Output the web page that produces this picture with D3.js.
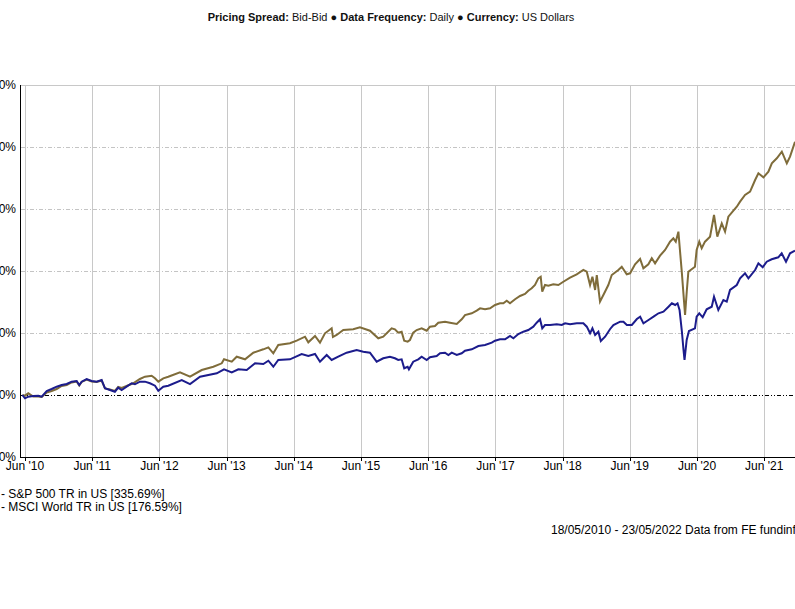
<!DOCTYPE html>
<html>
<head>
<meta charset="utf-8">
<script src="https://cdn.jsdelivr.net/npm/d3@7"></script>
<style>
  html, body { margin: 0; padding: 0; background: #fff; overflow: hidden; }
  svg { display: block; font-family: "Liberation Sans", Arial, sans-serif; }
</style>
</head>
<body>
<svg id="chart" width="795" height="609"></svg>
<script>
// ---------- DATA (decimal year, cumulative total return %) ----------
const seriesNames = ["S&P 500 TR in US [335.69%]", "MSCI World TR in US [176.59%]"];
const seriesColors = ["#7f6c3a", "#1c1c8c"];

const sp500 = [
  [2010.375,0],[2010.414,-1.1],[2010.463,2.7],[2010.538,-2.4],[2010.612,-2.4],[2010.663,-3.2],
  [2010.737,4.0],[2010.811,6.5],[2010.886,9.7],[2010.960,14.5],[2011.035,16.1],[2011.109,20.2],
  [2011.183,21.8],[2011.222,15.3],[2011.258,21.0],[2011.332,25.0],[2011.407,21.8],[2011.481,21.0],
  [2011.555,23.4],[2011.605,10.5],[2011.679,8.9],[2011.753,6.5],[2011.802,12.9],[2011.853,11.3],
  [2011.927,14.5],[2012.026,18.9],[2012.125,25.8],[2012.200,29.5],[2012.299,31.1],[2012.349,26.9],
  [2012.398,21.5],[2012.472,26.9],[2012.546,29.5],
  [2012.720,36.6],[2012.869,29.5],[2013.043,40.3],[2013.216,45.6],[2013.341,51.1],[2013.375,57.6],
  [2013.490,53.7],[2013.564,61.8],[2013.688,57.6],[2013.811,68.2],[2013.960,73.7],[2014.035,76.9],
  [2014.109,67.3],[2014.183,80.6],[2014.357,83.4],[2014.457,87.6],[2014.581,94.0],[2014.630,85.0],
  [2014.730,95.2],[2014.804,84.4],[2014.878,99.5],[2014.978,107.6],[2014.997,93.5],[2015.052,96.8],
  [2015.151,104.8],[2015.299,106.0],[2015.399,109.2],[2015.548,103.7],[2015.672,91.5],[2015.746,94.0],
  [2015.871,107.6],
  [2015.920,106.0],[2015.969,100.5],[2016.020,102.1],[2016.058,87.6],[2016.109,86.0],[2016.143,88.7],
  [2016.192,100.5],[2016.243,104.8],[2016.317,107.6],[2016.392,103.7],[2016.441,110.2],[2016.515,111.3],
  [2016.564,116.6],[2016.664,118.2],[2016.738,116.6],[2016.838,114.5],[2016.912,122.1],[2016.961,129.0],
  [2017.061,131.8],[2017.135,136.0],[2017.185,139.8],[2017.259,138.2],[2017.334,139.8],[2017.408,145.2],
  [2017.482,147.9],[2017.532,147.9],[2017.582,152.1],[2017.631,147.9],[2017.706,154.4],[2017.780,159.7],
  [2017.854,162.9],[2017.903,168.2],[2017.954,172.1],[2018.003,177.4],[2018.052,188.2],[2018.088,190.8],
  [2018.111,166.6],[2018.152,177.4],
  [2018.202,176.3],[2018.276,178.6],[2018.351,177.4],[2018.425,182.7],[2018.525,189.2],[2018.624,194.7],
  [2018.723,201.6],[2018.774,198.9],[2018.823,177.4],[2018.858,190.8],[2018.898,169.4],[2018.923,193.5],
  [2018.971,150.5],[2019.021,161.3],[2019.095,177.4],[2019.146,193.5],[2019.244,201.6],[2019.295,206.9],
  [2019.369,194.7],[2019.419,196.3],[2019.493,210.8],[2019.568,219.4],[2019.617,204.4],[2019.691,210.8],
  [2019.742,220.5],[2019.791,212.4],[2019.865,224.7],[2019.940,233.9],[2020.014,247.3],[2020.063,252.7],
  [2020.099,247.3],[2020.138,263.4],[2020.163,231.1],[2020.188,198.9],[2020.222,150.5],[2020.237,129.0],
  [2020.262,166.6],[2020.286,198.9],
  [2020.384,206.9],[2020.409,233.9],[2020.448,247.3],[2020.484,236.6],[2020.533,247.3],[2020.608,255.3],
  [2020.667,290.3],[2020.716,255.3],[2020.782,276.9],[2020.831,263.4],[2020.880,287.6],[2021.005,303.7],
  [2021.054,311.8],[2021.128,322.6],[2021.203,327.9],[2021.278,346.8],[2021.327,357.6],[2021.402,351.1],
  [2021.476,360.2],[2021.527,373.7],[2021.601,381.8],[2021.676,392.4],[2021.750,373.7],[2021.798,384.4],
  [2021.872,408.5]
];

const msciWorld = [
  [2010.375,0],[2010.414,-5.3],[2010.463,-2.7],[2010.538,-1.6],[2010.612,-1.1],[2010.663,-2.7],
  [2010.737,6.5],[2010.811,9.7],[2010.886,13.4],[2010.960,16.1],[2011.035,17.7],[2011.109,21.5],
  [2011.183,22.6],[2011.222,16.1],[2011.258,21.5],[2011.332,25.8],[2011.407,22.6],[2011.481,21.5],
  [2011.555,24.2],[2011.605,10.8],[2011.679,8.1],[2011.753,5.3],[2011.802,11.8],[2011.853,8.1],
  [2011.927,13.4],[2012.002,18.9],[2012.051,17.3],[2012.125,21.5],[2012.200,21.5],[2012.274,18.9],
  [2012.349,15.0],[2012.398,6.9],[2012.472,13.4],[2012.546,15.0],
  [2012.746,24.2],[2012.869,17.7],[2013.018,29.5],[2013.267,35.0],[2013.375,41.5],[2013.490,36.6],
  [2013.588,41.5],[2013.713,40.3],[2013.837,51.1],[2013.960,50.0],[2014.035,55.3],[2014.109,45.6],
  [2014.183,56.5],[2014.357,57.6],[2014.531,66.1],[2014.630,62.9],[2014.730,66.1],[2014.804,53.7],
  [2014.904,64.5],[2014.978,56.5],[2015.076,61.8],[2015.201,68.2],[2015.350,72.6],[2015.448,69.8],
  [2015.548,68.2],[2015.648,53.7],[2015.746,59.2],[2015.846,61.8],
  [2015.920,59.2],[2015.969,56.5],[2016.020,57.6],[2016.058,43.1],[2016.109,45.6],[2016.128,41.5],
  [2016.192,53.7],[2016.267,57.6],[2016.317,61.8],[2016.392,56.5],[2016.441,60.8],[2016.540,62.9],
  [2016.590,67.3],[2016.664,68.2],[2016.714,64.5],[2016.764,68.2],[2016.838,64.5],[2016.912,67.3],
  [2016.961,71.5],[2017.061,73.7],[2017.160,79.0],[2017.259,80.6],[2017.359,84.4],[2017.408,87.6],
  [2017.482,89.8],[2017.557,89.8],[2017.631,95.2],[2017.681,91.5],[2017.755,98.4],[2017.830,102.1],
  [2017.903,104.8],[2017.978,110.2],[2018.028,116.6],[2018.078,122.1],[2018.111,107.6],[2018.152,112.9],
  [2018.228,112.9],[2018.327,114.0],[2018.402,112.9],[2018.451,115.6],[2018.525,114.0],[2018.625,115.6],
  [2018.723,115.6],[2018.774,110.2],[2018.823,99.5],[2018.858,107.6],[2018.898,96.8],[2018.947,102.1],
  [2018.983,87.1],[2019.047,94.0],[2019.122,106.5],[2019.171,112.9],[2019.271,118.2],[2019.320,118.2],
  [2019.371,112.9],[2019.445,112.9],[2019.520,122.6],[2019.569,126.3],[2019.618,115.6],[2019.693,121.0],
  [2019.768,126.3],[2019.842,131.8],[2019.916,134.4],[2019.991,142.4],[2020.041,147.9],[2020.091,145.2],
  [2020.125,147.9],[2020.155,137.1],[2020.190,102.1],[2020.214,72.6],[2020.229,56.5],[2020.261,88.7],
  [2020.295,103.2],
  [2020.384,107.6],[2020.409,126.3],[2020.448,131.8],[2020.499,125.3],[2020.558,138.2],[2020.633,142.4],
  [2020.667,158.5],[2020.731,137.1],[2020.806,153.2],[2020.856,150.5],[2020.905,169.4],[2021.005,177.4],
  [2021.054,188.2],[2021.128,196.3],[2021.178,188.2],[2021.278,201.6],[2021.327,212.4],[2021.391,206.0],
  [2021.451,215.0],[2021.525,218.9],[2021.623,222.1],[2021.674,228.5],[2021.738,215.0],[2021.798,228.5],
  [2021.872,232.7]
];

const xTickYears = [2010,2011,2012,2013,2014,2015,2016,2017,2018,2019,2020,2021];
const xTickLabels = ["Jun '10","Jun '11","Jun '12","Jun '13","Jun '14","Jun '15","Jun '16","Jun '17","Jun '18","Jun '19","Jun '20","Jun '21"];
const yTicks = [-100,0,100,200,300,400,500];
const yTickLabels = ["-100%","0%","100%","200%","300%","400%","500%"];

const titleParts = [["Pricing Spread: ", true],["Bid-Bid", false],[" \u25CF ", false],["Data Frequency: ", true],["Daily", false],[" \u25CF ", false],["Currency: ", true],["US Dollars", false]];
const footerText = "18/05/2010 - 23/05/2022 Data from FE fundinfo";

// ---------- HELPERS ----------
function decToDate(t) {
  const y = Math.floor(t);
  const s = Date.UTC(y, 0, 1), e = Date.UTC(y + 1, 0, 1);
  return new Date(s + (t - y) * (e - s));
}

const svg = d3.select("#chart");
const startDate = new Date(Date.UTC(2010, 4, 18));
const endDate = new Date(Date.UTC(2022, 4, 23));
const pxPerYear = 67.2;
const spanYears = (endDate - startDate) / (365.25 * 864e5);
const x0 = 22.4;
const x = d3.scaleUtc().domain([startDate, endDate]).range([x0, x0 + spanYears * pxPerYear]);
const y = d3.scaleLinear().domain([-100, 500]).range([457, 85]);
const axisX = 21;
const rightEdge = x(endDate);

const g = svg.append("g");

// vertical gridlines
const xTickDates = xTickYears.map(yr => new Date(Date.UTC(yr, 5, 1)));
g.selectAll("line.vgrid").data(xTickDates).enter().append("line")
  .attr("x1", d => Math.round(x(d)) + 0.5).attr("x2", d => Math.round(x(d)) + 0.5)
  .attr("y1", y(500)).attr("y2", y(-100))
  .attr("stroke", "#c8c8c8").attr("stroke-width", 1);

// horizontal gridlines
g.selectAll("line.hgrid").data(yTicks.filter(v => v > 0 && v < 500)).enter().append("line")
  .attr("x1", axisX).attr("x2", rightEdge)
  .attr("y1", d => Math.round(y(d)) + 0.5).attr("y2", d => Math.round(y(d)) + 0.5)
  .attr("stroke", "#c4c4c4").attr("stroke-width", 1).attr("stroke-dasharray", "4,2,1,2");

// top border
g.append("line").attr("x1", axisX).attr("x2", rightEdge)
  .attr("y1", Math.round(y(500)) + 0.5).attr("y2", Math.round(y(500)) + 0.5)
  .attr("stroke", "#c8c8c8").attr("stroke-width", 1);

// zero line
g.append("line").attr("x1", axisX).attr("x2", rightEdge)
  .attr("y1", Math.round(y(0)) + 0.5).attr("y2", Math.round(y(0)) + 0.5)
  .attr("stroke", "#000").attr("stroke-width", 1).attr("stroke-dasharray", "4,2,1,2,1,2");

// series lines
const line = d3.line().x(d => x(decToDate(d[0]))).y(d => y(d[1]));
[sp500, msciWorld].forEach((s, i) => {
  g.append("path").datum(s).attr("d", line)
    .attr("fill", "none").attr("stroke", seriesColors[i]).attr("stroke-width", 2)
    .attr("stroke-linejoin", "miter");
});

// axes lines
g.append("line").attr("x1", axisX - 0.5).attr("x2", axisX - 0.5)
  .attr("y1", y(500)).attr("y2", y(-100) + 1).attr("stroke", "#000").attr("stroke-width", 1);
g.append("line").attr("x1", axisX - 1).attr("x2", rightEdge)
  .attr("y1", Math.round(y(-100)) + 0.5).attr("y2", Math.round(y(-100)) + 0.5)
  .attr("stroke", "#000").attr("stroke-width", 1);

// x ticks + labels
g.selectAll("line.xt").data(xTickDates).enter().append("line")
  .attr("x1", d => Math.round(x(d)) + 0.5).attr("x2", d => Math.round(x(d)) + 0.5)
  .attr("y1", y(-100)).attr("y2", y(-100) + 4).attr("stroke", "#000");
g.selectAll("text.xl").data(xTickDates).enter().append("text")
  .attr("x", d => x(d)).attr("y", 470).attr("text-anchor", "middle")
  .attr("font-size", "12px").attr("fill", "#000")
  .text((d, i) => xTickLabels[i]);

// y labels
g.selectAll("text.yl").data(yTicks).enter().append("text")
  .attr("x", 16).attr("y", d => y(d) + 4).attr("text-anchor", "end")
  .attr("font-size", "12px").attr("fill", "#000")
  .text((d, i) => yTickLabels[i]);

// title
const title = svg.append("text").attr("x", 391).attr("y", 21).attr("text-anchor", "middle")
  .attr("font-size", "11px").attr("fill", "#111");
titleParts.forEach(p => {
  title.append("tspan").attr("font-weight", p[1] ? "bold" : "normal").text(p[0]);
});

// legend
seriesNames.forEach((n, i) => {
  svg.append("text").attr("x", 1).attr("y", 498 + i * 12.5)
    .attr("font-size", "12px").attr("fill", "#000").text("- " + n);
});

// footer
svg.append("text").attr("x", 551).attr("y", 534).attr("font-size", "12px")
  .attr("fill", "#000").text(footerText);
</script>
</body>
</html>
